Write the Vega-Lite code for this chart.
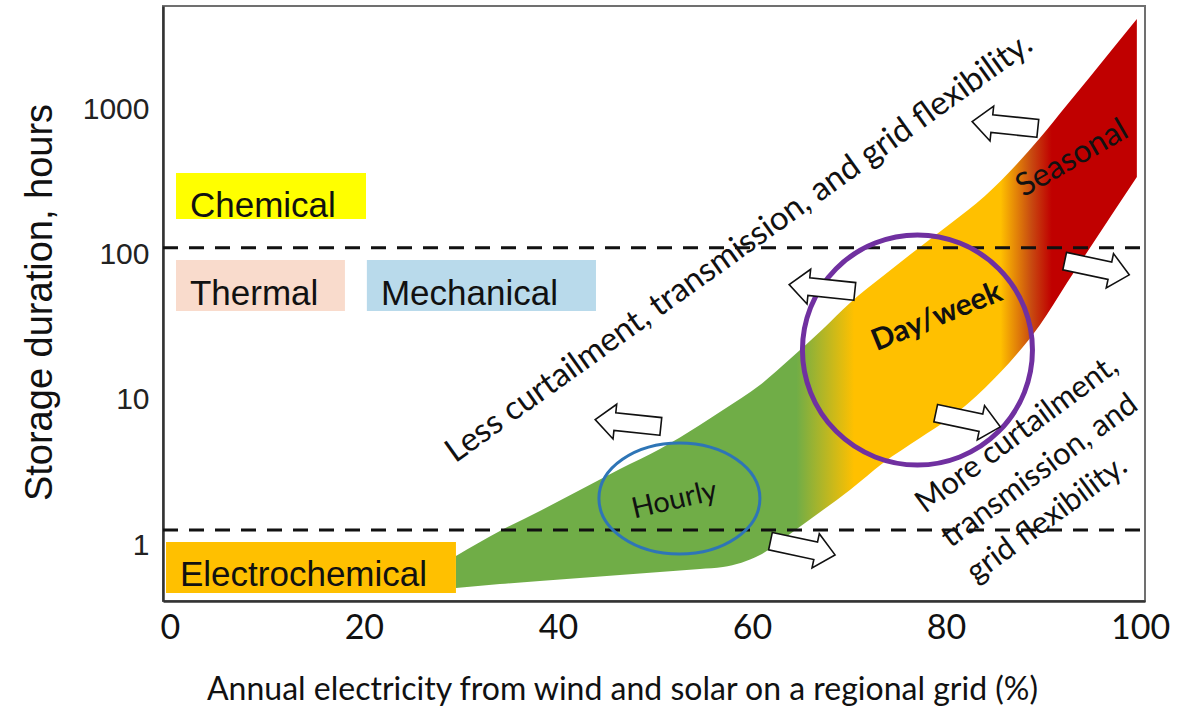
{
  "$schema": "https://vega.github.io/schema/vega-lite/v6.json",
  "width": 982,
  "height": 595,
  "autosize": {"type": "none"},
  "padding": {"left": 163, "top": 6, "right": 43, "bottom": 106},
  "background": "white",
  "config": {
    "view": {"stroke": "#707070", "strokeWidth": 2},
    "axis": {"grid": false, "ticks": false}
  },
  "datasets": {
    "band": [
      {"x": 29.49, "y": 0.840, "y2": 0.505},
      {"x": 34.02, "y": 1.249, "y2": 0.538},
      {"x": 38.14, "y": 1.716, "y2": 0.565},
      {"x": 42.27, "y": 2.395, "y2": 0.592},
      {"x": 46.39, "y": 3.343, "y2": 0.621},
      {"x": 50.51, "y": 4.593, "y2": 0.651},
      {"x": 54.63, "y": 6.723, "y2": 0.683},
      {"x": 57.01, "y": 8.532, "y2": 0.705},
      {"x": 60.82, "y": 12.69, "y2": 0.853},
      {"x": 63.91, "y": 19.18, "y2": 1.191},
      {"x": 67.31, "y": 30.88, "y2": 1.743},
      {"x": 70.09, "y": 46.67, "y2": 2.395},
      {"x": 73.50, "y": 71.65, "y2": 3.678},
      {"x": 77.31, "y": 113.6, "y2": 5.470},
      {"x": 80.40, "y": 163.6, "y2": 7.513},
      {"x": 84.00, "y": 255.3, "y2": 12.10},
      {"x": 87.30, "y": 424.2, "y2": 20.76},
      {"x": 89.67, "y": 641.2, "y2": 32.90},
      {"x": 92.45, "y": 1082, "y2": 64.11},
      {"x": 94.82, "y": 1689, "y2": 111.8},
      {"x": 97.40, "y": 2763, "y2": 204.3},
      {"x": 99.66, "y": 4242, "y2": 345.1}
    ],
    "boxes": [
      {"kind": "Chemical", "x": 0.64, "x2": 20.22, "y": 367.9, "y2": 177.1},
      {"kind": "Thermal", "x": 0.64, "x2": 18.05, "y": 92.4, "y2": 41.1},
      {"kind": "Mechanical", "x": 20.31, "x2": 43.92, "y": 92.4, "y2": 41.1},
      {"kind": "Electrochemical", "x": -0.39, "x2": 29.49, "y": 1.049, "y2": 0.4667}
    ],
    "rules": [
      {"x": -0.7, "x2": 100.5, "y": 112},
      {"x": -0.7, "x2": 100.5, "y": 1.27}
    ],
    "catlabels": [
      {"x": 2.08, "y": 182.9, "label": "Chemical"},
      {"x": 2.08, "y": 45.2, "label": "Thermal"},
      {"x": 21.76, "y": 45.2, "label": "Mechanical"},
      {"x": 1.05, "y": 0.5215, "label": "Electrochemical"}
    ],
    "arrows": [
      {"x": 47.22, "y": 6.94, "dir": "left"},
      {"x": 67.21, "y": 59.2, "dir": "left"},
      {"x": 86.07, "y": 788, "dir": "left"},
      {"x": 65.23, "y": 0.953, "dir": "right"},
      {"x": 95.55, "y": 81.35, "dir": "right"},
      {"x": 82.26, "y": 7.28, "dir": "right"}
    ],
    "rings": [
      {"x": 52.52, "y": 2.093, "ring": "Hourly"},
      {"x": 77.05, "y": 22.12, "ring": "Day/week"}
    ],
    "notes": [
      {"x": 52.0, "y": 2.043, "label": "Hourly", "kind": "hourly"},
      {"x": 79.05, "y": 37.35, "label": "Day/week", "kind": "day"},
      {"x": 92.97, "y": 466, "label": "Seasonal", "kind": "seasonal"},
      {"x": 58.66, "y": 111.8, "label": "Less curtailment, transmission, and grid flexibility.", "kind": "less"},
      {"x": 77.82, "y": 1.636, "label": "More curtailment,\ntransmission, and\ngrid flexibility.", "kind": "more"}
    ]
  },
  "encoding": {
    "x": {
      "field": "x",
      "type": "quantitative",
      "scale": {"domain": [-0.7, 100.5], "nice": false, "zero": false},
      "axis": {
        "values": [0, 20, 40, 60, 80, 100],
        "format": "d",
        "labelFont": "Lato",
        "labelFontSize": 34,
        "labelColor": "#111111",
        "labelPadding": 10,
        "domainColor": "#333333",
        "domainWidth": 2.5,
        "title": "Annual electricity from wind and solar on a regional grid (%)",
        "titleFont": "Lato",
        "titleFontSize": 32,
        "titleFontWeight": "normal",
        "titleColor": "#111111",
        "titleX": 459,
        "titleY": 98,
        "titleAlign": "center",
        "titleBaseline": "alphabetic"
      }
    },
    "y": {
      "field": "y",
      "type": "quantitative",
      "scale": {"type": "log", "domain": [0.411, 5212], "nice": false},
      "axis": {
        "values": [1, 10, 100, 1000],
        "format": "d",
        "labelFont": "Liberation Sans",
        "labelFontSize": 30,
        "labelColor": "#222222",
        "labelPadding": 14,
        "domainColor": "#333333",
        "domainWidth": 2.5,
        "title": "Storage duration, hours",
        "titleFont": "Liberation Sans",
        "titleFontSize": 38,
        "titleFontWeight": "normal",
        "titleColor": "#111111",
        "titleAngle": -90,
        "titleX": -112,
        "titleY": 296,
        "titleAlign": "center",
        "titleBaseline": "alphabetic"
      }
    }
  },
  "layer": [
    {
      "data": {"name": "band"},
      "mark": {
        "type": "area",
        "interpolate": "monotone",
        "opacity": 1,
        "fill": {
          "gradient": "linear",
          "x1": 0, "y1": 0, "x2": 1, "y2": 0,
          "stops": [
            {"offset": 0, "color": "#70AD47"},
            {"offset": 0.5, "color": "#70AD47"},
            {"offset": 0.585, "color": "#FFC000"},
            {"offset": 0.8, "color": "#FFC000"},
            {"offset": 0.845, "color": "#C84A10"},
            {"offset": 0.875, "color": "#C00000"},
            {"offset": 1, "color": "#C00000"}
          ]
        }
      },
      "encoding": {"y2": {"field": "y2"}}
    },
    {
      "data": {"name": "rules"},
      "mark": {"type": "rule", "strokeDash": [15, 11], "strokeWidth": 3, "color": "#111111"},
      "encoding": {"x2": {"field": "x2"}}
    },
    {
      "data": {"name": "boxes"},
      "mark": {"type": "rect", "opacity": 1},
      "encoding": {
        "x2": {"field": "x2"},
        "y2": {"field": "y2"},
        "color": {
          "field": "kind",
          "type": "nominal",
          "scale": {"domain": ["Chemical", "Thermal", "Mechanical", "Electrochemical"], "range": ["#FFFF00", "#F9DBCC", "#B9DAEB", "#FFC000"]},
          "legend": null
        }
      }
    },
    {
      "data": {"name": "catlabels"},
      "mark": {"type": "text", "align": "left", "baseline": "alphabetic", "font": "Liberation Sans", "fontSize": 35, "color": "#111111"},
      "encoding": {"text": {"field": "label"}}
    },
    {
      "data": {"name": "rings"},
      "transform": [{"filter": "datum.ring === 'Hourly'"}],
      "mark": {
        "type": "point",
        "shape": "M1,0C1,0.381,0.552,0.69,0,0.69C-0.552,0.69,-1,0.381,-1,0C-1,-0.381,-0.552,-0.69,0,-0.69C0.552,-0.69,1,-0.381,1,0Z",
        "size": 25921,
        "filled": false,
        "stroke": "#2E75B6",
        "strokeWidth": 3,
        "opacity": 1
      }
    },
    {
      "data": {"name": "rings"},
      "transform": [{"filter": "datum.ring === 'Day/week'"}],
      "mark": {"type": "point", "shape": "circle", "size": 52900, "filled": false, "stroke": "#7030A0", "strokeWidth": 5, "opacity": 1}
    },
    {
      "data": {"name": "arrows"},
      "transform": [{"filter": "datum.dir === 'left'"}],
      "mark": {"type": "point", "shape": "M-1,-0.27L0.4,-0.27L0.4,-0.53L1,0L0.4,0.53L0.4,0.27L-1,0.27Z", "size": 4356, "filled": true, "fill": "white", "stroke": "#111111", "strokeWidth": 1.6, "opacity": 1, "angle": 186}
    },
    {
      "data": {"name": "arrows"},
      "transform": [{"filter": "datum.dir === 'right'"}],
      "mark": {"type": "point", "shape": "M-1,-0.27L0.4,-0.27L0.4,-0.53L1,0L0.4,0.53L0.4,0.27L-1,0.27Z", "size": 4356, "filled": true, "fill": "white", "stroke": "#111111", "strokeWidth": 1.6, "opacity": 1, "angle": 12}
    },
    {
      "data": {"name": "notes"},
      "transform": [{"filter": "datum.kind === 'hourly'"}],
      "mark": {"type": "text", "align": "center", "baseline": "middle", "font": "Lato", "fontSize": 29, "angle": -13, "color": "#111111"},
      "encoding": {"text": {"field": "label"}}
    },
    {
      "data": {"name": "notes"},
      "transform": [{"filter": "datum.kind === 'day'"}],
      "mark": {"type": "text", "align": "center", "baseline": "middle", "font": "Lato", "fontSize": 30, "fontWeight": "bold", "angle": -22, "color": "#111111"},
      "encoding": {"text": {"field": "label"}}
    },
    {
      "data": {"name": "notes"},
      "transform": [{"filter": "datum.kind === 'seasonal'"}],
      "mark": {"type": "text", "align": "center", "baseline": "middle", "font": "Lato", "fontSize": 32, "angle": -30, "color": "#111111"},
      "encoding": {"text": {"field": "label"}}
    },
    {
      "data": {"name": "notes"},
      "transform": [{"filter": "datum.kind === 'less'"}],
      "mark": {"type": "text", "align": "center", "baseline": "middle", "font": "Lato", "fontSize": 33, "angle": -35.6, "color": "#111111"},
      "encoding": {"text": {"field": "label"}}
    },
    {
      "data": {"name": "notes"},
      "transform": [{"filter": "datum.kind === 'more'"}],
      "mark": {"type": "text", "align": "left", "baseline": "alphabetic", "font": "Lato", "fontSize": 31, "angle": -36.5, "lineBreak": "\n", "lineHeight": 43, "color": "#111111"},
      "encoding": {"text": {"field": "label"}}
    }
  ]
}
